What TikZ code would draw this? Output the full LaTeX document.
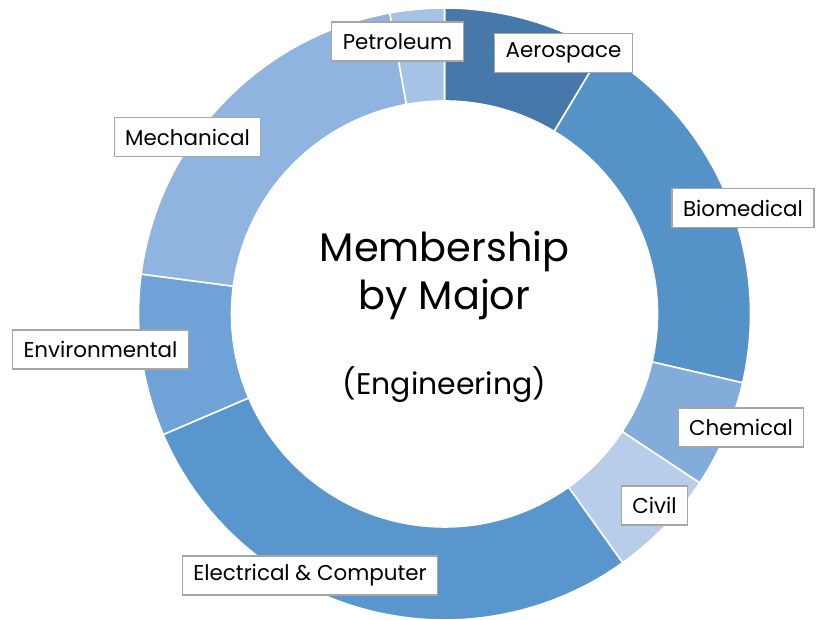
\documentclass[tikz,border=0pt]{standalone}
\usepackage{fontspec}
\setmainfont{Poppins}
\definecolor{aerocol}{HTML}{4679A9}
\definecolor{biocol}{HTML}{5592C8}
\definecolor{chemcol}{HTML}{82ADDB}
\definecolor{civilcol}{HTML}{B8CDE9}
\definecolor{eleccol}{HTML}{5896CD}
\definecolor{envcol}{HTML}{6FA2D6}
\definecolor{mechcol}{HTML}{8FB4DF}
\definecolor{petrocol}{HTML}{A7C2E7}
\definecolor{boxline}{HTML}{A6A6A6}
\begin{document}
\begin{tikzpicture}[x=1bp, y=1bp,
		seg/.style={draw=white, line width=1.6bp, line join=round},
		lbl/.style={draw=boxline, fill=white, line width=1.3bp, inner xsep=11bp, minimum height=39bp, font=\fontsize{21.5}{24}\selectfont},
		title/.style={anchor=base, font=\fontsize{40}{46}\selectfont}]
	\useasboundingbox (0,0) rectangle (818,620);
	\begin{scope}[shift={(444.5,306)}]
		% ring segments, clockwise from the top
		\filldraw[seg, fill=aerocol] (90:306) arc (90:59:306) -- (59:213) arc (59:90:213) -- cycle;
		\filldraw[seg, fill=biocol] (59:306) arc (59:-13:306) -- (-13:213) arc (-13:59:213) -- cycle;
		\filldraw[seg, fill=chemcol] (-13:306) arc (-13:-33.5:306) -- (-33.5:213) arc (-33.5:-13:213) -- cycle;
		\filldraw[seg, fill=civilcol] (-33.5:306) arc (-33.5:-54.4:306) -- (-54.4:213) arc (-54.4:-33.5:213) -- cycle;
		\filldraw[seg, fill=eleccol] (-54.4:306) arc (-54.4:-156.8:306) -- (-156.8:213) arc (-156.8:-54.4:213) -- cycle;
		\filldraw[seg, fill=envcol] (203.2:306) arc (203.2:172.5:306) -- (172.5:213) arc (172.5:203.2:213) -- cycle;
		\filldraw[seg, fill=mechcol] (172.5:306) arc (172.5:100.3:306) -- (100.3:213) arc (100.3:172.5:213) -- cycle;
		\filldraw[seg, fill=petrocol] (100.3:306) arc (100.3:90:306) -- (90:213) arc (90:100.3:213) -- cycle;
	\end{scope}
	% centre text
	\node[title] (T_1) at (444.5,358) {Membership};
	\node[title] (T_2) at (444.5,310) {by Major};
	\node[title, font=\fontsize{30}{36}\selectfont] (T_3) at (444.5,225) {(Engineering)};
	% labels
	\node[lbl] (L_petro) at (397.5,578.5) {Petroleum};
	\node[lbl] (L_aero) at (563.5,567) {Aerospace};
	\node[lbl] (L_bio) at (743,412) {Biomedical};
	\node[lbl] (L_chem) at (741,192.5) {Chemical};
	\node[lbl] (L_civil) at (654.5,114.5) {Civil};
	\node[lbl] (L_elec) at (310,44.5) {Electrical \& Computer};
	\node[lbl] (L_env) at (100.5,270.5) {Environmental};
	\node[lbl] (L_mech) at (187.5,483) {Mechanical};
\end{tikzpicture}
\end{document}
